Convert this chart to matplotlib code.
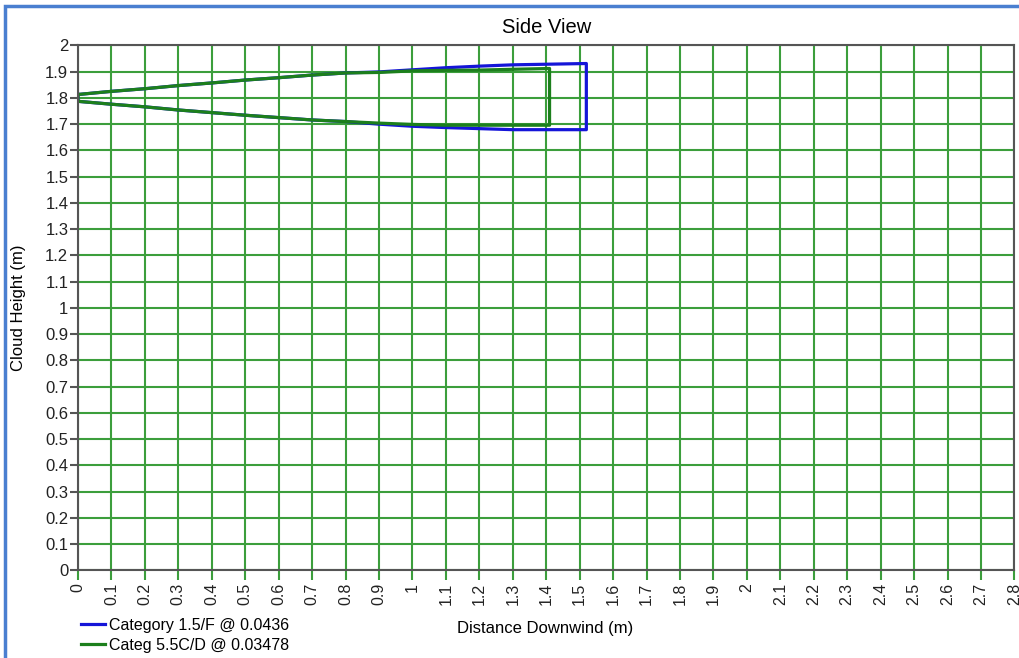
#!/usr/bin/env python3
"""Side view of the cloud envelope for two weather categories."""
import matplotlib.pyplot as plt
from matplotlib.patches import Rectangle

plt.rcParams["font.family"] = ["Liberation Sans", "DejaVu Sans"]

# envelope edges (distance m, height m)
blue_x = [0.0, 0.1, 0.2, 0.3, 0.4, 0.5, 0.6, 0.7, 0.8, 0.9, 1.0, 1.1, 1.2, 1.3, 1.52]
blue_top = [1.813, 1.825, 1.835, 1.847, 1.857, 1.868, 1.877, 1.887, 1.895, 1.899,
            1.907, 1.915, 1.921, 1.926, 1.931]
blue_bottom = [1.787, 1.776, 1.766, 1.754, 1.744, 1.734, 1.725, 1.716, 1.710, 1.700,
               1.692, 1.687, 1.683, 1.679, 1.679]

green_x = [0.0, 0.1, 0.2, 0.3, 0.4, 0.5, 0.6, 0.7, 0.8, 0.9, 1.0, 1.1, 1.2, 1.3, 1.41]
green_top = [1.813, 1.825, 1.835, 1.847, 1.857, 1.868, 1.877, 1.887, 1.895, 1.897,
             1.903, 1.905, 1.906, 1.909, 1.912]
green_bottom = [1.787, 1.776, 1.766, 1.754, 1.744, 1.734, 1.725, 1.716, 1.710, 1.704,
                1.699, 1.696, 1.696, 1.696, 1.696]

labels = ["Category 1.5/F @ 0.0436", "Categ 5.5C/D @ 0.03478"]
colors = ["#1515d8", "#1c7f1c"]

x_ticks = [round(i * 0.1, 1) for i in range(29)]
y_ticks = [round(i * 0.1, 1) for i in range(21)]


def fmt(v):
    return "%g" % v


def outline(xs, top, bottom):
    px = list(xs) + list(xs[::-1]) + [xs[0]]
    py = list(top) + list(bottom[::-1]) + [top[0]]
    return px, py


fig = plt.figure(figsize=(10.2, 6.58), dpi=100)
ax = fig.add_axes([0.0765, 0.133, 0.918, 0.798])

grid_c = "#3c9e3c"
for s in ax.spines.values():
    s.set_color("#555555")
    s.set_linewidth(1.5)

ax.set_xlim(0, 2.8)
ax.set_ylim(0, 2)
ax.set_xticks(x_ticks)
ax.set_xticklabels([fmt(v) for v in x_ticks], rotation=90)
ax.set_yticks(y_ticks)
ax.set_yticklabels([fmt(v) for v in y_ticks])
ax.grid(True, color=grid_c, linewidth=1.5)
ax.tick_params(axis="x", colors=grid_c, labelcolor="#222222", length=7, width=1.5,
               labelsize=11.5, pad=2)
ax.tick_params(axis="y", colors="#555555", labelcolor="#222222", length=6, width=1.5,
               labelsize=12, pad=1)

bx, by = outline(blue_x, blue_top, blue_bottom)
gx, gy = outline(green_x, green_top, green_bottom)
lb, = ax.plot(bx, by, color=colors[0], linewidth=2.3, label=labels[0])
lg, = ax.plot(gx, gy, color=colors[1], linewidth=2.3, label=labels[1])

ax.set_title("Side View", fontsize=14.5, pad=9)
ax.set_ylabel("Cloud Height (m)", fontsize=12, labelpad=14)
fig.text(0.534, 0.045, "Distance Downwind (m)", fontsize=12, ha="center", va="center")

fig.legend(handles=[lb, lg], labels=labels, loc="lower left",
           bbox_to_anchor=(0.065, -0.014), frameon=False, fontsize=11.5,
           handlelength=1.5, handletextpad=0.3, labelspacing=0.3)

# blue frame around the window
fig.patches.append(Rectangle((5 / 1020, -0.05), 1.1, 1 - 6 / 658 + 0.05,
                             transform=fig.transFigure, fill=False,
                             edgecolor="#4a7fd0", linewidth=2.5))

fig.savefig("out.png", dpi=100)
